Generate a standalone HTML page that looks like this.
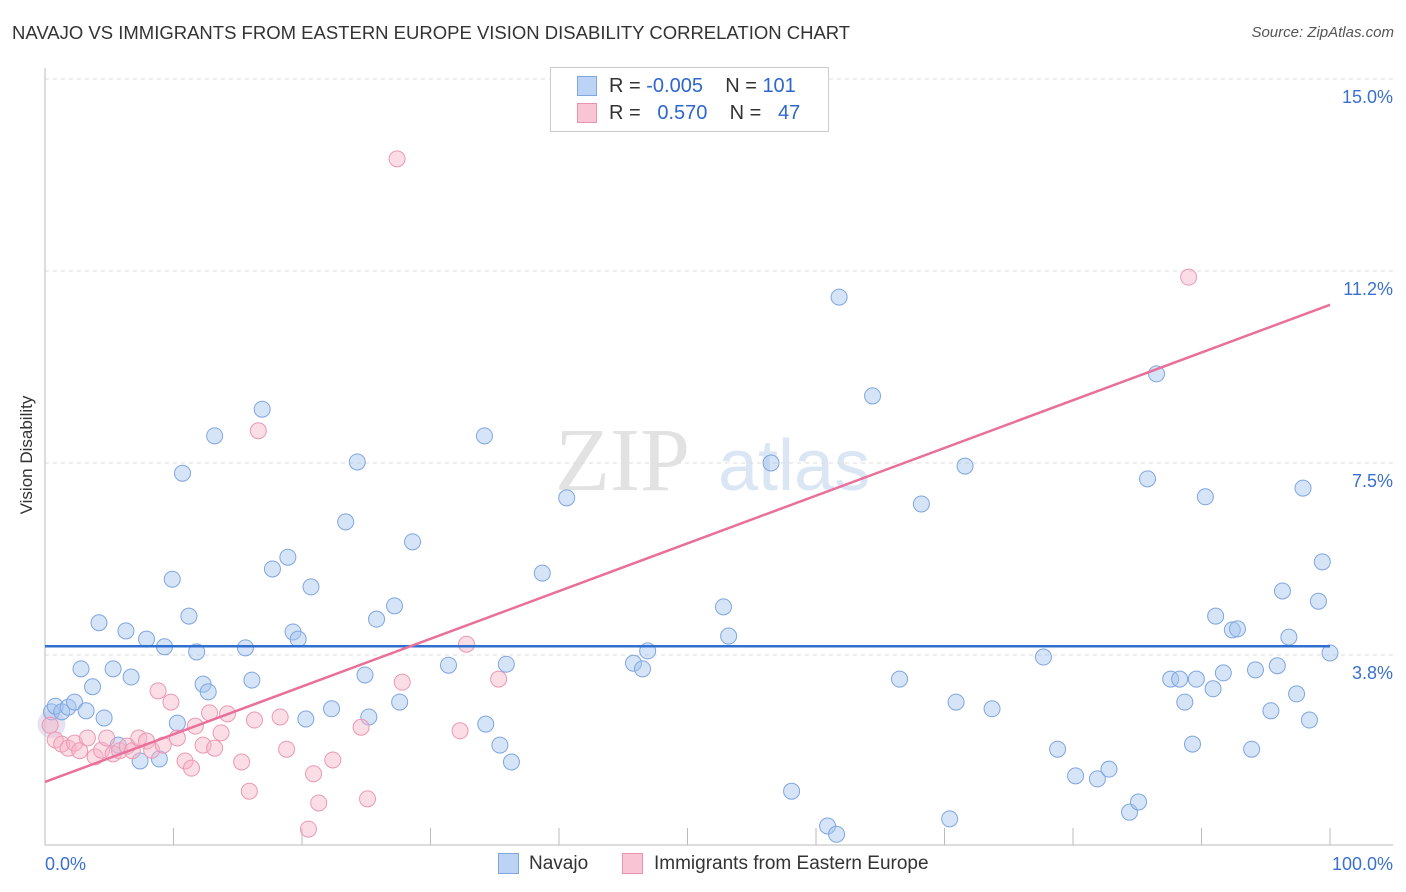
<!DOCTYPE html>
<html><head><meta charset="utf-8">
<style>
body{margin:0;background:#fff;font-family:"Liberation Sans",sans-serif;}
#wrap{position:relative;width:1406px;height:892px;overflow:hidden;}
.t{position:absolute;white-space:nowrap;}
</style></head>
<body>
<div id="wrap">
<div class="t" style="left:12px;top:22px;font-size:18.5px;color:#333;">NAVAJO VS IMMIGRANTS FROM EASTERN EUROPE VISION DISABILITY CORRELATION CHART</div>
<div class="t" style="right:12px;top:24px;font-size:15px;color:#555;font-style:italic;">Source: ZipAtlas.com</div>
<div class="t" style="left:-38px;top:445px;font-size:17px;color:#333;transform:rotate(-90deg);width:130px;text-align:center;">Vision Disability</div>
<svg id="chart" width="1406" height="892" style="position:absolute;left:0;top:0"></svg>
<div style="position:absolute;left:550px;top:67px;width:277px;height:63px;border:1px solid #ccc;background:#fff;font-size:20px;color:#333;">
 <div style="position:absolute;left:26px;top:8px;width:18px;height:18px;background:#bcd3f5;border:1px solid #7fa6e0;"></div>
 <div class="t" style="left:58px;top:7px;">R = <span style="color:#2e66cc">-0.005</span>&nbsp;&nbsp;&nbsp; N = <span style="color:#2e66cc">101</span></div>
 <div style="position:absolute;left:26px;top:35px;width:18px;height:18px;background:#f9c5d5;border:1px solid #ea93b0;"></div>
 <div class="t" style="left:58px;top:34px;">R = &nbsp;&nbsp;<span style="color:#2e66cc">0.570</span>&nbsp;&nbsp;&nbsp; N = &nbsp;&nbsp;<span style="color:#2e66cc">47</span></div>
</div>
<div style="position:absolute;left:498px;top:853px;width:19px;height:19px;background:#bcd3f5;border:1px solid #7fa6e0;"></div>
<div class="t" style="left:529px;top:853px;font-size:19px;color:#333;">Navajo</div>
<div style="position:absolute;left:622px;top:853px;width:19px;height:19px;background:#f9c5d5;border:1px solid #ea93b0;"></div>
<div class="t" style="left:654px;top:853px;font-size:19px;color:#333;">Immigrants from Eastern Europe</div>
</div>
<script>
const blueX=[0.5,0.8,1.3,1.8,2.3,2.8,3.2,3.7,4.2,4.6,5.3,5.7,6.3,6.7,7.4,7.9,8.9,9.3,9.9,10.3,10.7,11.2,11.8,12.3,12.7,13.2,15.6,16.1,16.9,17.7,18.9,19.3,19.7,20.3,20.7,22.3,23.4,24.3,24.9,25.2,25.8,27.2,27.6,28.6,31.4,34.2,34.3,35.4,35.9,36.3,38.7,40.6,45.8,46.5,46.9,52.8,53.2,56.5,58.1,60.9,61.6,61.8,64.4,66.5,68.2,70.4,70.9,71.6,73.7,77.7,78.8,80.2,81.9,82.8,84.4,85.1,85.8,86.5,87.6,88.3,88.7,89.3,89.6,90.3,90.9,91.1,91.7,92.4,92.8,93.9,94.2,95.4,95.9,96.3,96.8,97.4,97.9,98.4,99.1,99.4,100];
const blueY=[2.64,2.75,2.64,2.73,2.83,3.48,2.66,3.13,4.38,2.52,3.48,1.99,4.22,3.32,1.68,4.06,1.72,3.91,5.23,2.42,7.30,4.51,3.81,3.18,3.03,8.03,3.89,3.26,8.55,5.43,5.66,4.20,4.06,2.50,5.08,2.70,6.35,7.52,3.36,2.54,4.45,4.71,2.83,5.96,3.55,8.03,2.40,1.99,3.57,1.66,5.35,6.82,3.59,3.48,3.83,4.69,4.12,7.50,1.09,0.41,0.25,10.74,8.81,3.28,6.70,0.55,2.83,7.44,2.70,3.71,1.91,1.39,1.33,1.52,0.68,0.88,7.19,9.24,3.28,3.28,2.83,2.01,3.28,6.84,3.09,4.51,3.40,4.24,4.26,1.91,3.46,2.66,3.54,5.00,4.10,2.99,7.01,2.48,4.80,5.57,3.79];
const pinkX=[0.4,0.8,1.3,1.8,2.3,2.7,3.3,3.9,4.4,4.8,5.3,5.8,6.4,6.8,7.3,7.9,8.3,8.8,9.2,9.8,10.3,10.9,11.4,11.7,12.3,12.8,13.2,13.7,14.2,15.3,15.9,16.3,16.6,18.3,18.8,20.5,20.9,21.3,22.4,24.6,25.1,27.8,27.4,32.8,32.3,35.3,89.0];
const pinkY=[2.38,2.09,2.01,1.93,2.03,1.88,2.13,1.76,1.89,2.13,1.82,1.88,1.97,1.88,2.13,2.07,1.89,3.05,1.99,2.83,2.13,1.68,1.54,2.36,1.99,2.62,1.93,2.23,2.60,1.66,1.09,2.48,8.13,2.54,1.91,0.35,1.43,0.86,1.70,2.34,0.94,3.22,13.44,3.96,2.27,3.28,11.13];
const yTicks=[3.75,7.5,11.25,15];
const yTickLabels=["3.8%","7.5%","11.2%","15.0%"];
const blueFit=[3.92,3.92];
const pinkFit=[1.27,10.59];
const X0=45,X1=1330,Y0=847,PXV=51.2;
const sx=v=>X0+(X1-X0)*v/100, sy=v=>Y0-v*PXV;
const svg=document.getElementById('chart');
const NS='http://www.w3.org/2000/svg';
function mk(tag,attrs){const e=document.createElementNS(NS,tag);for(const k in attrs)e.setAttribute(k,attrs[k]);svg.appendChild(e);return e;}
let w=mk('text',{x:555,y:490,'font-size':90,'font-family':'Liberation Serif',fill:'#e2e2e2'});w.textContent='ZIP';


let w2=mk('text',{x:718,y:490,'font-size':72,'font-family':'Liberation Sans',fill:'#dbe6f5'});w2.textContent='atlas';


yTicks.forEach((v,i)=>{
 const g=mk('line',{x1:X0,x2:1393,y1:sy(v),y2:sy(v),stroke:'#ddd','stroke-dasharray':'4,4'});
 
 
 const t=mk('text',{x:1393,y:sy(v)+24,'text-anchor':'end','font-size':18,fill:'#3a70d0','font-family':'Liberation Sans'});
 t.textContent=yTickLabels[i];
 
 
});
let ax=mk('line',{x1:X0,x2:1393,y1:845,y2:845,stroke:'#bbb'});


let ay=mk('line',{x1:X0,x2:X0,y1:68,y2:845,stroke:'#bbb'});


for(let i=0;i<=10;i++){const l=mk('line',{x1:sx(i*10),x2:sx(i*10),y1:828,y2:845,stroke:'#bbb'});
 
 }
[['0.0%',X0,'start'],['100.0%',1393,'end']].forEach(a=>{const t=mk('text',{x:a[1],y:870,'text-anchor':a[2],'font-size':18,fill:'#3a70d0','font-family':'Liberation Sans'});t.textContent=a[0];
 
 });
mk('circle',{cx:sx(0.5),cy:sy(2.4),r:14,fill:'rgba(200,190,220,0.45)',stroke:'none'});
blueX.forEach((v,i)=>{const c=mk('circle',{cx:sx(v),cy:sy(blueY[i]),r:8,fill:'rgba(164,196,240,0.45)',stroke:'#7fa6e0','stroke-width':1});
 
 });
pinkX.forEach((v,i)=>{const c=mk('circle',{cx:sx(v),cy:sy(pinkY[i]),r:8,fill:'rgba(246,180,200,0.45)',stroke:'#ec98b4','stroke-width':1});
 
 });
let bl=mk('line',{x1:sx(0),x2:sx(100),y1:sy(blueFit[0]),y2:sy(blueFit[1]),stroke:'#2f6fcf','stroke-width':2.5});


let pl=mk('line',{x1:sx(0),x2:sx(100),y1:sy(pinkFit[0]),y2:sy(pinkFit[1]),stroke:'#e8709a','stroke-width':2.5});


</script>
</body></html>
